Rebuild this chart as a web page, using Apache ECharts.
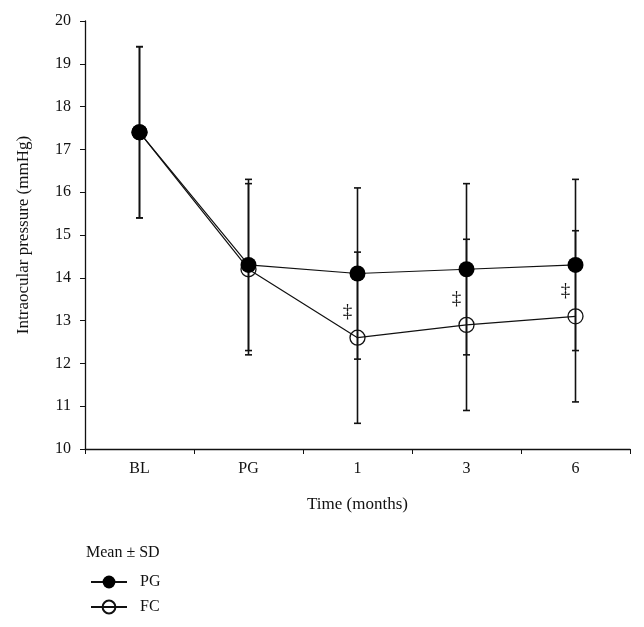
<!DOCTYPE html>
<html>
<head>
<meta charset="utf-8">
<script src="https://cdn.jsdelivr.net/npm/echarts@6/dist/echarts.min.js"></script>
<style>
  html, body { margin: 0; padding: 0; background: #fff; }
  #chart { width: 644px; height: 627px; }
</style>
</head>
<body>
<div id="chart"></div>
<script>
// 数据
const categories = ['BL', 'PG', '1', '3', '6'];
const pgMean = [17.4, 14.3, 14.1, 14.2, 14.3];
const pgSd = [2.0, 2.0, 2.0, 2.0, 2.0];
const fcMean = [17.4, 14.2, 12.6, 12.9, 13.1];
const fcSd = [2.0, 2.0, 2.0, 2.0, 2.0];
const fcMarks = ['', '', '‡', '‡', '‡'];

const font = '"Liberation Serif", "DejaVu Serif", serif';

// 误差线
function errorSeries(name, mean, sd) {
  return {
    name: name + ' SD',
    type: 'custom',
    silent: true,
    z: 1,
    data: mean.map(function (m, i) { return [i, m - sd[i], m + sd[i]]; }),
    renderItem: function (params, api) {
      const lo = api.coord([api.value(0), api.value(1)]);
      const hi = api.coord([api.value(0), api.value(2)]);
      const w = 3.5;
      const st = { stroke: '#111', lineWidth: 1.6 };
      return {
        type: 'group',
        children: [
          { type: 'line', shape: { x1: lo[0], y1: lo[1], x2: hi[0], y2: hi[1] }, style: st },
          { type: 'line', shape: { x1: lo[0] - w, y1: lo[1], x2: lo[0] + w, y2: lo[1] }, style: st },
          { type: 'line', shape: { x1: hi[0] - w, y1: hi[1], x2: hi[0] + w, y2: hi[1] }, style: st }
        ]
      };
    }
  };
}

const chart = echarts.init(document.getElementById('chart'));
chart.setOption({
  animation: false,
  textStyle: { fontFamily: font, color: '#111' },
  grid: { left: 85, right: 14, top: 21, bottom: 178 },
  xAxis: {
    type: 'category',
    data: categories,
    boundaryGap: true,
    name: 'Time (months)',
    nameLocation: 'middle',
    nameGap: 47,
    nameTextStyle: { fontFamily: font, fontSize: 17, color: '#111' },
    axisLine: { lineStyle: { color: '#111', width: 1.3 } },
    axisTick: { show: true, length: 5, lineStyle: { color: '#111' } },
    axisLabel: { fontFamily: font, fontSize: 16, color: '#111', margin: 12 }
  },
  yAxis: {
    type: 'value',
    min: 10,
    max: 20,
    interval: 1,
    name: 'Intraocular pressure (mmHg)',
    nameLocation: 'middle',
    nameGap: 53,
    nameTextStyle: { fontFamily: font, fontSize: 17, color: '#111' },
    splitLine: { show: false },
    axisLine: { show: true, lineStyle: { color: '#111', width: 1.3 } },
    axisTick: { show: true, length: 5, lineStyle: { color: '#111' } },
    axisLabel: { fontFamily: font, fontSize: 16, color: '#111', margin: 14 }
  },
  legend: {
    orient: 'vertical',
    left: 85,
    top: 569,
    itemWidth: 36,
    itemHeight: 16,
    itemGap: 9,
    data: ['PG', 'FC'],
    textStyle: { fontFamily: font, fontSize: 16, color: '#111', padding: [0, 0, 0, 8] }
  },
  graphic: [{
    type: 'text',
    left: 86,
    top: 545,
    style: { text: 'Mean ± SD', font: '16px ' + font, fill: '#111' }
  }],
  series: [
    errorSeries('PG', pgMean, pgSd),
    errorSeries('FC', fcMean, fcSd),
    {
      name: 'FC',
      type: 'line',
      z: 3,
      data: fcMean,
      symbol: 'circle',
      symbolSize: 15,
      lineStyle: { color: '#111', width: 1.2 },
      itemStyle: { color: 'rgba(255,255,255,0)', borderColor: '#111', borderWidth: 1.3 },
      label: {
        show: true,
        position: 'top',
        offset: [-10, -3],
        fontFamily: font,
        fontSize: 19,
        color: '#111',
        formatter: function (p) { return fcMarks[p.dataIndex]; }
      }
    },
    {
      name: 'PG',
      type: 'line',
      z: 4,
      data: pgMean,
      symbol: 'circle',
      symbolSize: 16,
      lineStyle: { color: '#111', width: 1.2 },
      itemStyle: { color: '#000', borderColor: '#000', borderWidth: 0 }
    }
  ]
});
</script>
</body>
</html>
